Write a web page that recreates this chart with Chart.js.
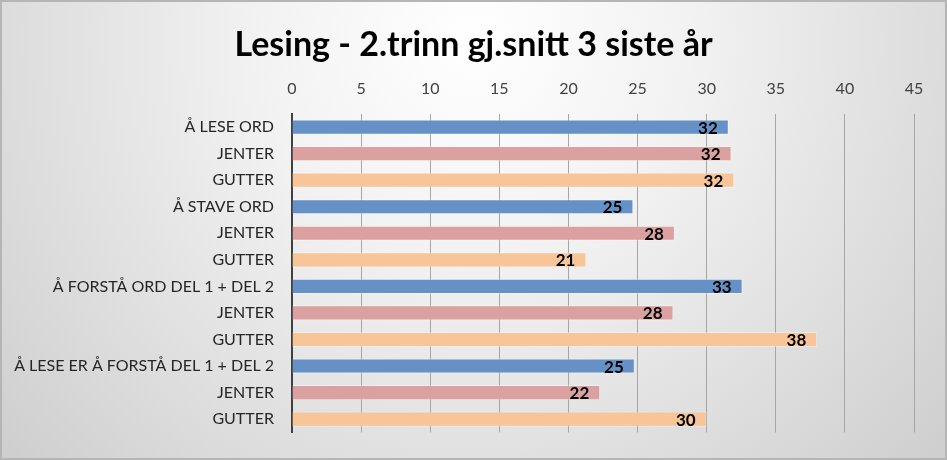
<!DOCTYPE html>
<html>
<head>
<meta charset="utf-8">
<script src="https://cdn.jsdelivr.net/npm/chart.js@4.4.0/dist/chart.umd.min.js"></script>
<style>
  html, body { margin: 0; padding: 0; }
  #wrap { width: 947px; height: 460px; }
</style>
</head>
<body>
<div id="wrap"><canvas id="chart" width="947" height="460"></canvas></div>
<script>
const categories = [
  "Å LESE ORD", "JENTER", "GUTTER",
  "Å STAVE ORD", "JENTER", "GUTTER",
  "Å FORSTÅ ORD DEL 1 + DEL 2", "JENTER", "GUTTER",
  "Å LESE ER Å FORSTÅ DEL 1 + DEL 2", "JENTER", "GUTTER"
];
const values = [31.6, 31.8, 32.0, 24.7, 27.7, 21.3, 32.6, 27.6, 38.0, 24.8, 22.3, 30.0];
const tickLabels = ["0", "5", "10", "15", "20", "25", "30", "35", "40", "45"];

const BLUE = "rgb(101, 145, 199)";
const PINK = "rgb(219, 161, 160)";
const ORANGE = "rgb(248, 197, 153)";
const barColors = categories.map((c, i) => [BLUE, PINK, ORANGE][i % 3]);

const FONT = "Lato";

// gray-white background like the office chart style
const background = {
  id: "background",
  beforeDraw(chart) {
    const ctx = chart.ctx;
    const w = chart.width, h = chart.height;
    ctx.save();
    const g = ctx.createRadialGradient(w / 2, 40, 0, w / 2, 40, 620);
    g.addColorStop(0, "#ffffff");
    g.addColorStop(0.35, "#f2f2f2");
    g.addColorStop(1, "#cfcfcf");
    ctx.fillStyle = g;
    ctx.fillRect(0, 0, w, h);
    ctx.strokeStyle = "#b5b5b5";
    ctx.lineWidth = 2;
    ctx.strokeRect(1, 1, w - 2, h - 2);
    ctx.restore();
  }
};

// center the title on the whole canvas, not the padded area
const centerTitle = {
  id: "centerTitle",
  afterLayout(chart) {
    const t = chart.titleBlock;
    if (!t) return;
    t.left = 0;
    t.right = chart.width;
    t.width = chart.width;
  }
};

// value labels inside the end of each bar
const barLabels = {
  id: "barLabels",
  afterDatasetsDraw(chart) {
    const ctx = chart.ctx;
    const meta = chart.getDatasetMeta(0);
    ctx.save();
    ctx.font = "bold 17px " + FONT;
    ctx.fillStyle = "#000";
    ctx.textAlign = "right";
    ctx.textBaseline = "middle";
    meta.data.forEach((bar, i) => {
      ctx.fillText(String(Math.round(values[i])), bar.x - 11, bar.y + 1);
    });
    ctx.restore();
  }
};

new Chart(document.getElementById("chart"), {
  type: "bar",
  data: {
    labels: categories,
    datasets: [{
      data: values,
      backgroundColor: barColors,
      borderColor: "rgba(255,255,255,0.35)",
      borderWidth: 1,
      barPercentage: 0.57,
      categoryPercentage: 1
    }]
  },
  options: {
    indexAxis: "y",
    responsive: false,
    animation: false,
    devicePixelRatio: 1,
    layout: { padding: { left: 0, right: 33, top: 0, bottom: 24 } },
    plugins: {
      legend: { display: false },
      tooltip: { enabled: false },
      title: {
        display: true,
        text: "Lesing - 2.trinn gj.snitt 3 siste år",
        color: "#000",
        font: { family: FONT, size: 34, weight: "bold" },
        padding: { top: 25, bottom: 8 }
      }
    },
    scales: {
      x: {
        position: "top",
        min: 0,
        max: 45,
        ticks: {
          stepSize: 5,
          color: "#404040",
          padding: 15,
          font: { family: FONT, size: 16 },
          callback: (v, i) => tickLabels[i]
        },
        grid: { color: "#a6a6a6", lineWidth: 1, drawTicks: false },
        border: { display: false },
        afterFit(scale) { scale.height = 40; }
      },
      y: {
        ticks: {
          color: "#262626",
          padding: 18,
          font: { family: FONT, size: 16 }
        },
        grid: { display: false, drawTicks: false },
        border: { color: "#404040", width: 2 },
        afterFit(scale) { scale.width = 292; }
      }
    }
  },
  plugins: [background, centerTitle, barLabels]
});
</script>
</body>
</html>
